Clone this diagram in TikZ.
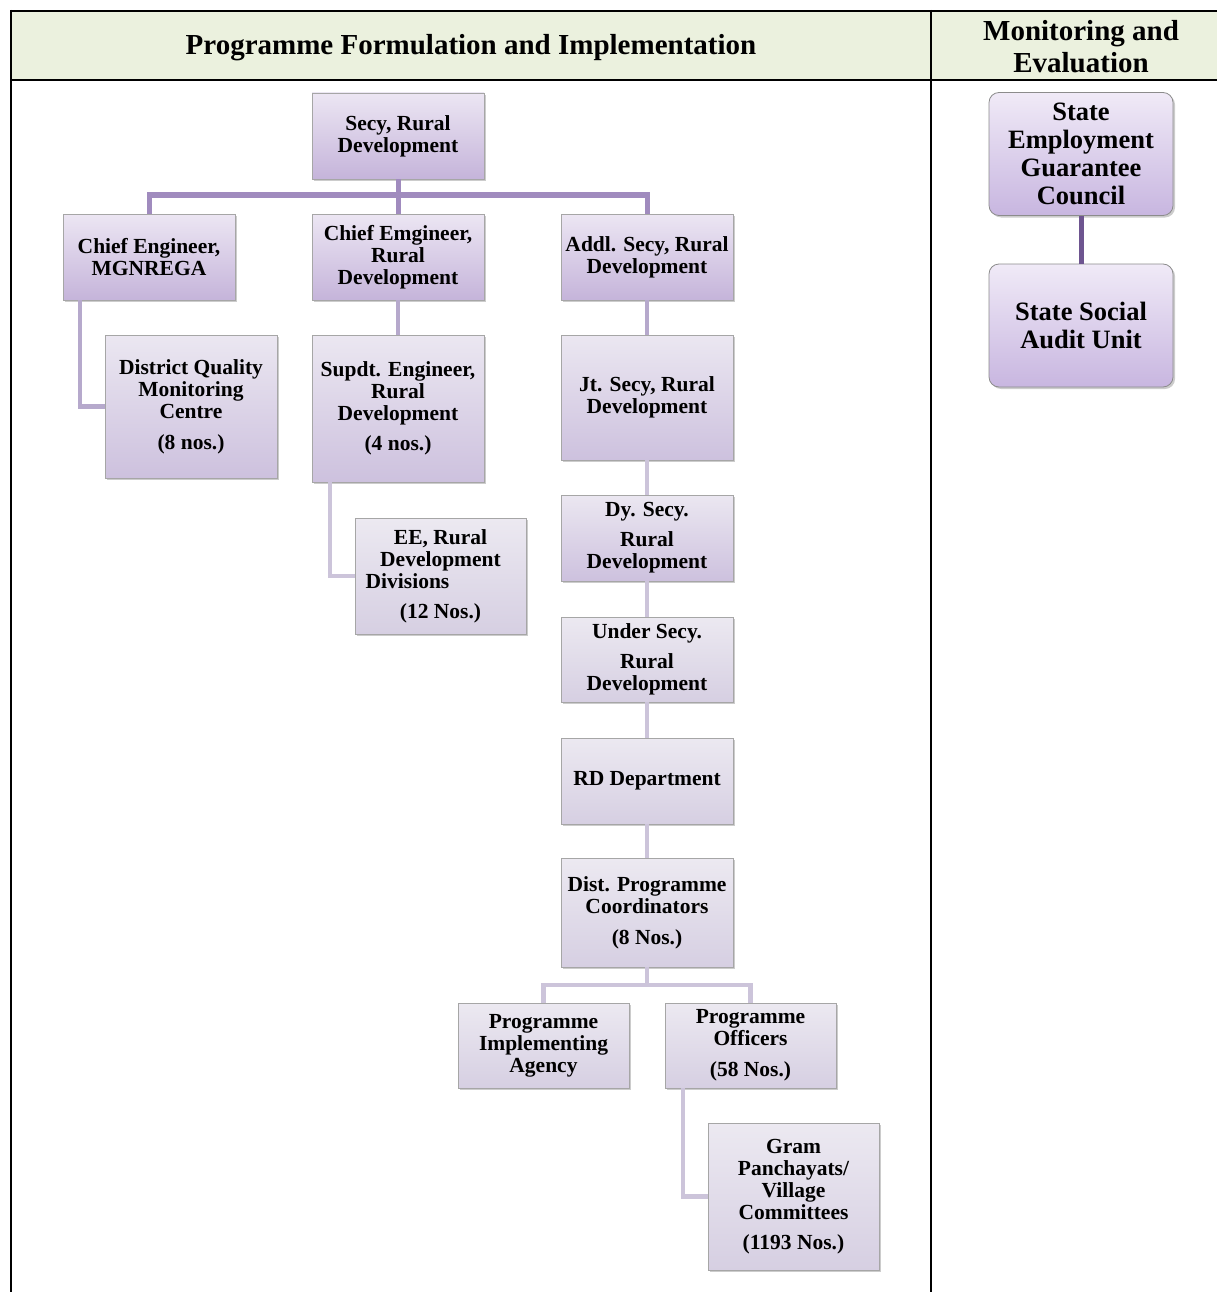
\documentclass[tikz,border=0pt]{standalone}
\usepackage{fontspec}
\setmainfont{Liberation Serif}
\usetikzlibrary{shadows}
\definecolor{hdrgreen}{HTML}{EBF1DE}
\definecolor{barA}{HTML}{A08BBE}
\definecolor{barB}{HTML}{B6A9CC}
\definecolor{barC}{HTML}{CCC4DA}
\definecolor{barD}{HTML}{6E5590}
\definecolor{topA}{HTML}{ECE6F3}
\definecolor{botA}{HTML}{C5B4DA}
\definecolor{topB}{HTML}{EBE7F1}
\definecolor{botB}{HTML}{CDC1DE}
\definecolor{topC}{HTML}{ECE9F1}
\definecolor{botC}{HTML}{D6CFE2}
\definecolor{topM}{HTML}{F0EAF7}
\definecolor{botM}{HTML}{C8B6E0}
\tikzset{
  orgbox/.style={draw=black!35, line width=0.8pt, align=center, inner sep=2pt,
    font=\bfseries\fontsize{21.5}{22}\selectfont,
    drop shadow={shadow xshift=2pt, shadow yshift=-2pt, fill=black!40, opacity=0.5}},
  lvA/.style={orgbox, top color=topA, bottom color=botA},
  lvB/.style={orgbox, top color=topB, bottom color=botB},
  lvC/.style={orgbox, top color=topC, bottom color=botC},
  mebox/.style={draw=black!45, line width=0.8pt, rounded corners=10pt, align=center,
    font=\bfseries\fontsize{26.5}{28}\selectfont,
    top color=topM, bottom color=botM,
    drop shadow={shadow xshift=2pt, shadow yshift=-2pt, fill=black!40, opacity=0.5},
    minimum width=184pt, minimum height=123pt},
  connA/.style={draw=barA, line width=5pt, line join=miter},
  connB/.style={draw=barB, line width=4.5pt, line join=miter},
  connC/.style={draw=barC, line width=4.5pt, line join=miter},
  frame/.style={draw=black, line width=2pt}
}
\begin{document}
\begin{tikzpicture}[x=1pt,y=-1pt]
\useasboundingbox (0,0) rectangle (1217,1292);
% header
\fill[hdrgreen] (11,11) rectangle (1217,80);
\draw[frame] (11,11) -- (1217,11);
\draw[frame] (11,80) -- (1217,80);
\draw[frame] (11,10) -- (11,1292);
\draw[frame] (931,10) -- (931,1292);
\node[font=\bfseries\fontsize{29}{31}\selectfont] (t1) at (471,47.5) {Programme Formulation and Implementation};
\node[font=\bfseries\fontsize{29}{32}\selectfont, align=center] (t2) at (1081,47) {Monitoring and\\Evaluation};

% boxes
\node[lvA, minimum width=172pt, minimum height=86pt] (secy) at (398,136) {Secy, Rural\\Development};
\node[lvA, minimum width=172pt, minimum height=86pt] (cem) at (149,257) {Chief Engineer,\\MGNREGA};
\node[lvA, minimum width=172pt, minimum height=86pt] (cerd) at (398,257) {Chief Emgineer,\\Rural\\Development};
\node[lvA, minimum width=172pt, minimum height=86pt] (addl) at (647,257) {Addl. Secy, Rural\\Development};
\node[lvB, minimum width=172pt, minimum height=143pt] (dqmc) at (191,406.5) {District Quality\\Monitoring\\Centre\\[9pt](8 nos.)};
\node[lvB, minimum width=172pt, minimum height=147pt] (supdt) at (398,408.5) {Supdt. Engineer,\\Rural\\Development\\[8pt](4 nos.)};
\node[lvC, minimum width=171pt, minimum height=116pt] (ee) at (440.5,576) {EE, Rural\\Development\\\mbox{Divisions\hspace{66pt}}\\[8pt](12 Nos.)};
\node[lvB, minimum width=172pt, minimum height=125pt] (jt) at (647,397.5) {Jt. Secy, Rural\\Development};
\node[lvB, minimum width=172pt, minimum height=86pt] (dy) at (647,538) {Dy. Secy.\\[8pt]Rural\\Development};
\node[lvC, minimum width=172pt, minimum height=85pt] (under) at (647,659.5) {Under Secy.\\[8pt]Rural\\Development};
\node[lvC, minimum width=172pt, minimum height=86pt] (rdd) at (647,781) {RD Department};
\node[lvC, minimum width=172pt, minimum height=109pt] (dpc) at (647,912.5) {Dist. Programme\\Coordinators\\[9pt](8 Nos.)};
\node[lvC, minimum width=171pt, minimum height=85pt] (pia) at (543.5,1045.5) {Programme\\Implementing\\Agency};
\node[lvC, minimum width=171pt, minimum height=85pt] (po) at (750.5,1045.5) {Programme\\Officers\\[9pt](58 Nos.)};
\node[lvC, minimum width=171pt, minimum height=147pt] (gram) at (793.5,1196.5) {Gram\\Panchayats/\\Village\\Committees\\[8pt](1193 Nos.)};

\node[mebox] (segc) at (1081,154) {State\\Employment\\Guarantee\\Council};
\node[mebox] (ssau) at (1081,325.5) {State Social\\Audit Unit};

% connectors
\coordinate (barTop) at (398,195);
\coordinate (barLow) at (647,985);
\draw[connA] (secy.south) -- (cerd.north);
\draw[connA] (cem.north) |- (barTop) -| (addl.north);
\draw[connB] ([xshift=-69pt]cem.south) |- (dqmc.west);
\draw[connB] (cerd.south) -- (supdt.north);
\draw[connC] ([xshift=-68pt]supdt.south) |- (ee.west);
\draw[connB] (addl.south) -- (jt.north);
\draw[connC] (jt.south) -- (dy.north);
\draw[connC] (dy.south) -- (under.north);
\draw[connC] (under.south) -- (rdd.north);
\draw[connC] (rdd.south) -- (dpc.north);
\draw[connC] (dpc.south) -- (barLow);
\draw[connC] (pia.north) |- (barLow) -| (po.north);
\draw[connC] ([xshift=-67.5pt]po.south) |- (gram.west);
\draw[draw=barD, line width=5pt] (segc.south) -- (ssau.north);
\end{tikzpicture}
\end{document}
